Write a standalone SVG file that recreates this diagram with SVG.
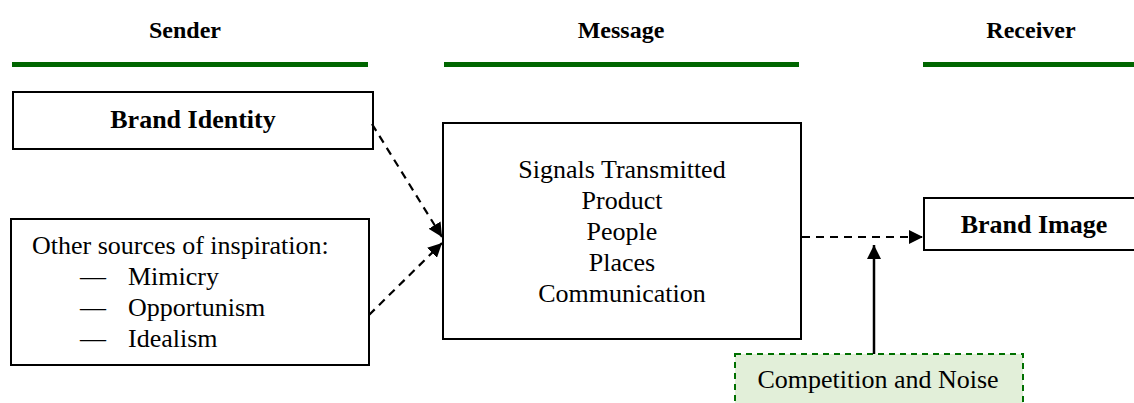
<svg xmlns="http://www.w3.org/2000/svg" width="1134" height="403" viewBox="0 0 1134 403" font-family="'Liberation Serif', 'Times New Roman', 'DejaVu Serif', serif">
<style>
text{font-family:'Liberation Serif','Times New Roman','DejaVu Serif',serif;fill:#000}
.h{font-weight:bold;font-size:24px}
.b{font-weight:bold;font-size:26px}
.t{font-size:26px}
.box{fill:#fff;stroke:#000;stroke-width:2}
.bar{fill:#006600}
.dash{fill:none;stroke:#000;stroke-width:2.2;stroke-dasharray:8 6}
.solid{fill:none;stroke:#000;stroke-width:2.5}
</style>
<defs>
<marker id="ah" viewBox="0 0 10 10" refX="10" refY="5" markerWidth="14" markerHeight="14" markerUnits="userSpaceOnUse" orient="auto">
<path d="M0,0 L10,5 L0,10 Z" fill="#000"/>
</marker>
</defs>
<g id="headers">
<text class="h" x="185" y="38" text-anchor="middle">Sender</text>
<text class="h" x="621" y="38" text-anchor="middle">Message</text>
<text class="h" x="1031" y="38" text-anchor="middle">Receiver</text>
<rect class="bar" x="12" y="62" width="356" height="5"/>
<rect class="bar" x="444" y="62" width="355" height="5"/>
<rect class="bar" x="923" y="62" width="211" height="5"/>
</g>
<g id="brand-identity">
<rect class="box" x="13" y="92" width="360" height="57"/>
<text class="b" x="193" y="128" text-anchor="middle">Brand Identity</text>
</g>
<g id="other-sources">
<rect class="box" x="11" y="219" width="358" height="146"/>
<text class="t" x="32" y="254">Other sources of inspiration:</text>
<text class="t" x="80" y="285">—</text><text class="t" x="128" y="285">Mimicry</text>
<text class="t" x="80" y="316">—</text><text class="t" x="128" y="316">Opportunism</text>
<text class="t" x="80" y="347">—</text><text class="t" x="128" y="347">Idealism</text>
</g>
<g id="message">
<rect class="box" x="443" y="123" width="358" height="216"/>
<text class="t" x="622" y="178" text-anchor="middle">Signals Transmitted</text>
<text class="t" x="622" y="209" text-anchor="middle">Product</text>
<text class="t" x="622" y="240" text-anchor="middle">People</text>
<text class="t" x="622" y="271" text-anchor="middle">Places</text>
<text class="t" x="622" y="302" text-anchor="middle">Communication</text>
</g>
<g id="brand-image">
<rect class="box" x="924" y="198" width="220" height="52"/>
<text class="b" x="1034" y="233" text-anchor="middle">Brand Image</text>
</g>
<g id="competition">
<rect x="735" y="354" width="288" height="60" fill="#e2efd9" stroke="#007000" stroke-width="2" stroke-dasharray="6 5"/>
<text class="t" x="878" y="388" text-anchor="middle">Competition and Noise</text>
</g>
<g id="connectors">
<path class="dash" d="M372,124 L442,237" marker-end="url(#ah)"/>
<path class="dash" d="M369,315 L442,243" marker-end="url(#ah)"/>
<path class="dash" d="M802,237 L923,237" marker-end="url(#ah)"/>
<path class="solid" d="M874,354 L874,245" marker-end="url(#ah)"/>
</g>
</svg>
